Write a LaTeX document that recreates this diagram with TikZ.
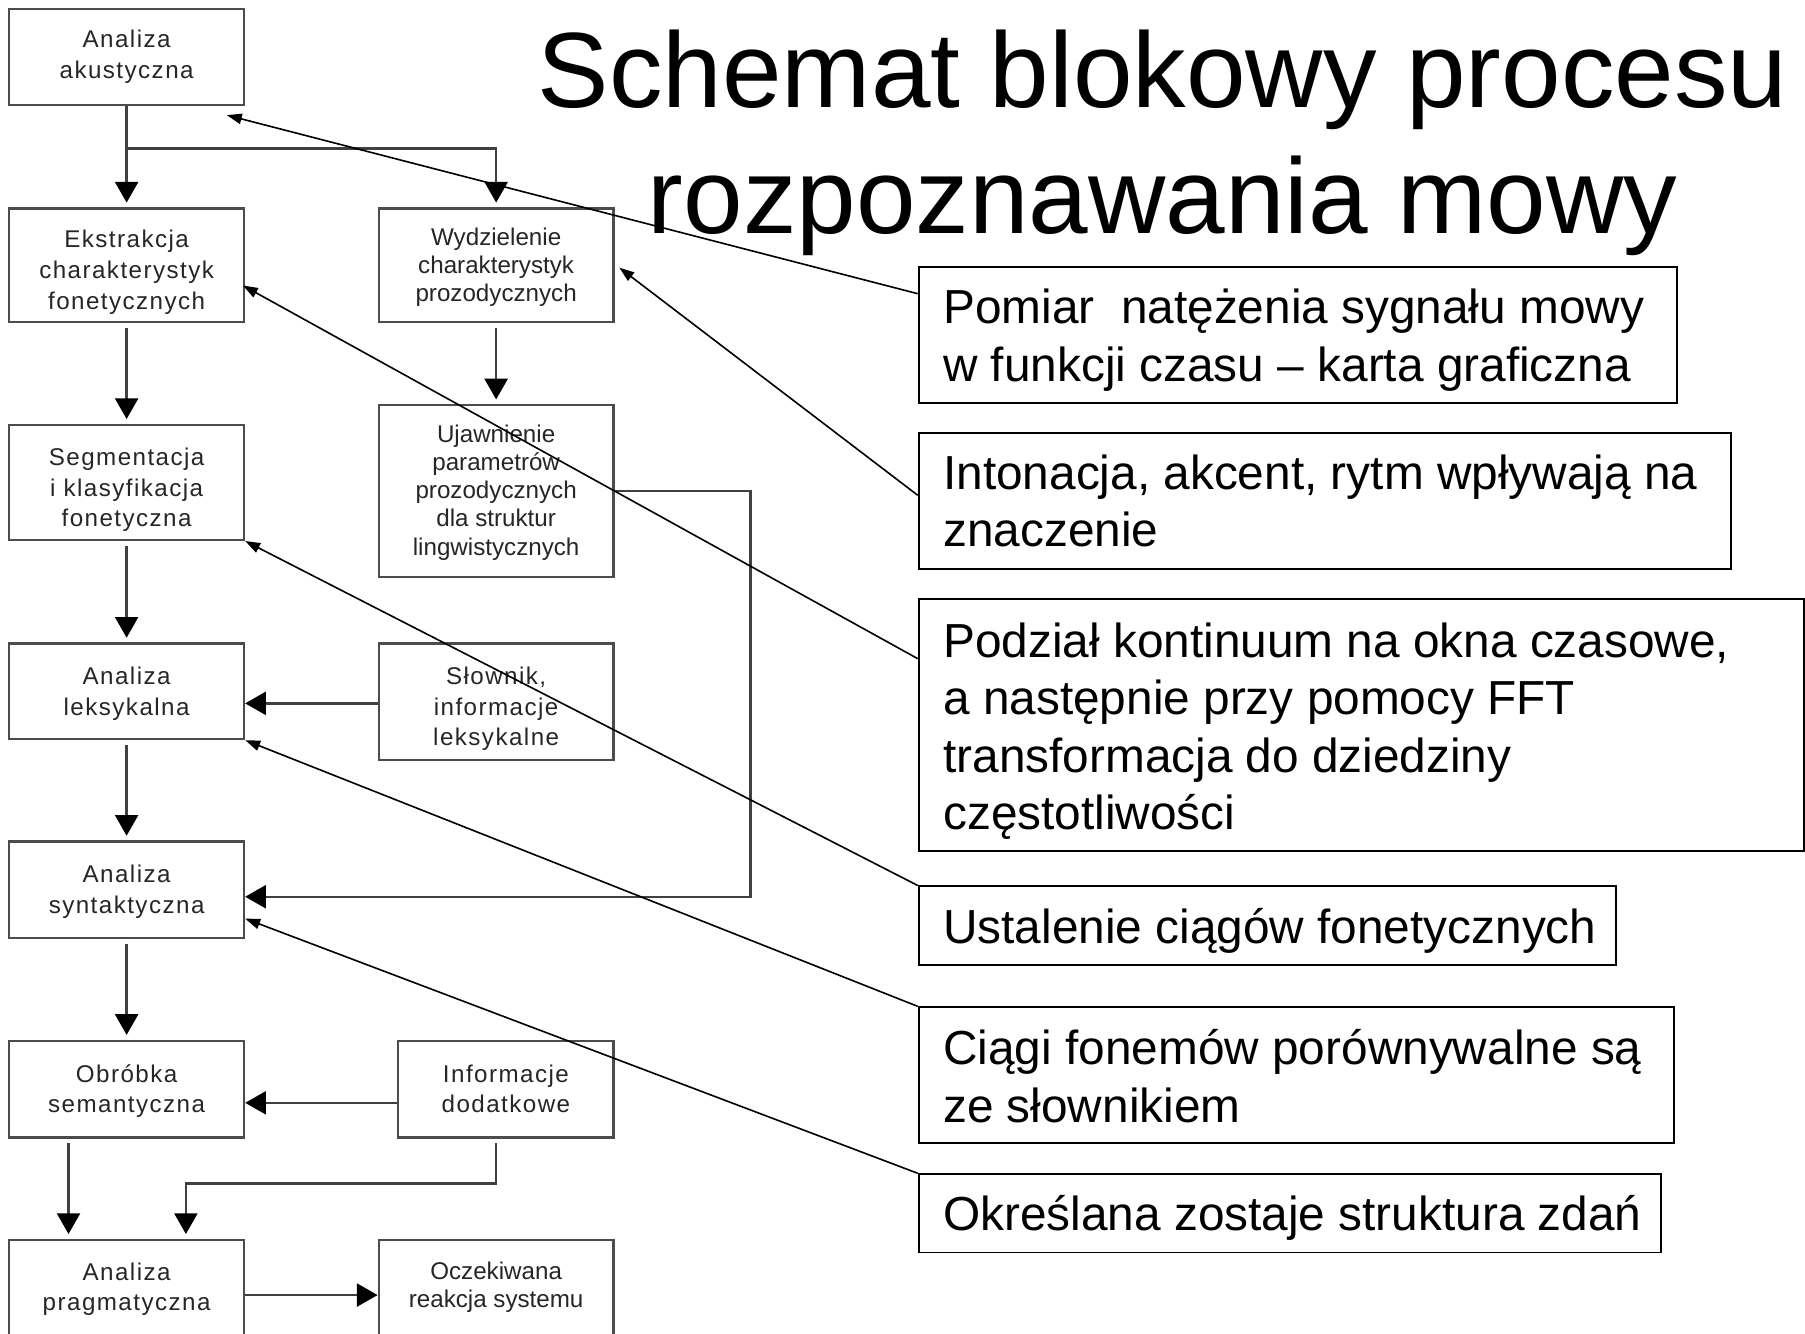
\documentclass[tikz,border=0pt]{standalone}
\usepackage{fontspec}
\setmainfont{Liberation Sans}
\newfontfamily\boxfont[LetterSpace=6]{Liberation Sans}
\newfontfamily\boxfontn{Liberation Sans}
\usetikzlibrary{arrows.meta,calc}
\newcommand\lowtext[2]{\raisebox{-#1}[\height][\depth]{\begin{tabular}{@{}c@{}}#2\end{tabular}}}
\begin{document}
\begin{tikzpicture}[x=0.5pt,y=-0.5pt,
  lbox/.style={draw=black!70, line width=1pt, inner sep=0pt, align=center, text=black!85,
    font=\boxfont\fontsize{10.5}{13.3}\selectfont, minimum width=102pt},
  nbox/.style={lbox, font=\boxfontn\fontsize{10.5}{12.2}\selectfont},
  big/.style={draw=black!75, line width=1pt, -{Triangle[length=9pt,width=10pt,color=black]}},
  gap/.style={shorten <=2pt, shorten >=2pt},
  callout/.style={draw=black, line width=0.7pt, -{Triangle[length=6.5pt,width=4.5pt]}},
  rbox/.style={draw=black, line width=0.8pt, inner sep=0pt},
  rtext/.style={font=\fontsize{20.75}{25}\selectfont, inner sep=0pt, anchor=base west},
  ttl/.style={font=\fontsize{46.5}{55}\selectfont, inner sep=0pt, anchor=base}]
\useasboundingbox (0,0) rectangle (1568,1158);
\fill[white] (0,0) rectangle (1568,1158);

% title
\node[ttl] (title) at (1010,93) {\begin{tabular}[t]{@{}c@{}}Schemat blokowy procesu\\rozpoznawania mowy\end{tabular}};

% left boxes
\node[lbox, minimum height=41.5pt] (aa) at (110,49.5) {Analiza\\akustyczna};
\node[lbox, minimum height=49.5pt] (ek) at (110,230.5) {\lowtext{3pt}{Ekstrakcja\\charakterystyk\\fonetycznych}};
\node[nbox, minimum height=49.5pt] (wy) at (431,230.5) {\lowtext{1pt}{Wydzielenie\\charakterystyk\\prozodycznych}};
\node[lbox, minimum height=50pt] (seg) at (110,419) {\lowtext{3.3pt}{Segmentacja\\i klasyfikacja\\fonetyczna}};
\node[nbox, minimum height=74.5pt] (uj) at (431,426.5) {\lowtext{1pt}{Ujawnienie\\parametrów\\prozodycznych\\dla struktur\\lingwistycznych}};
\node[lbox, minimum height=41.5pt] (lek) at (110,600.5) {\lowtext{1pt}{Analiza\\leksykalna}};
\node[lbox, minimum height=50.5pt] (slo) at (431,609.5) {\lowtext{3.2pt}{Słownik,\\informacje\\leksykalne}};
\node[lbox, minimum height=42pt] (syn) at (110,773) {\lowtext{0.8pt}{Analiza\\syntaktyczna}};
\node[lbox, minimum height=42pt] (obr) at (110,946) {\lowtext{1pt}{Obróbka\\semantyczna}};
\node[lbox, minimum height=42pt, minimum width=93.5pt] (inf) at (439.5,946) {Informacje\\dodatkowe};
\node[lbox, minimum height=41.5pt] (prag) at (110,1118.5) {\lowtext{0.8pt}{Analiza\\pragmatyczna}};
\node[nbox, minimum height=41.5pt] (ocz) at (431,1118.5) {Oczekiwana\\reakcja systemu};

% left connectors
\coordinate (split) at ($(aa.south)+(0,37)$);
\draw[draw=black!75, line width=1pt] (aa.south) -- (split);
\draw[big, shorten >=2pt] (split) -- (ek.north);
\draw[big, shorten >=2pt] (split) -| (wy.north);
\draw[big, gap] (ek) -- (seg);
\draw[big, gap] (wy) -- (uj);
\draw[big, gap] (seg) -- (lek);
\draw[big, gap] (lek) -- (syn);
\draw[big, gap] (syn) -- (obr);
\coordinate (s1) at ($(slo.west)+(0,1.5)$);
\draw[big] (s1) -- (s1 -| lek.east);
\draw[big] (uj.east) -- ++(118,0) |- ($(syn.east)+(0,6)$);
\coordinate (i3) at ($(inf.west)+(0,12)$);
\draw[big] (i3) -- (i3 -| obr.east);
\coordinate (o1) at ($(obr.south west)!0.255!(obr.south east)$);
\draw[big, gap] (o1) -- (o1 |- prag.north);
\coordinate (i1) at ($(inf.south)+(-8.5,0)$);
\coordinate (p2) at ($(prag.north west)!0.75!(prag.north east)$);
\draw[big, gap] (i1) -- ++(0,39) -| (p2);
\coordinate (p3) at ($(prag.north east)+(0,49)$);
\draw[big] (p3) -- (p3 -| ocz.west);

% right boxes
\node[rbox, minimum width=329.5pt, minimum height=59pt] (pom) at (1127.5,291) {};
\node[rbox, minimum width=353pt, minimum height=59pt] (into) at (1151,435) {};
\node[rbox, minimum width=384.5pt, minimum height=109.5pt] (podz) at (1182.5,629.5) {};
\node[rbox, minimum width=303pt, minimum height=34pt] (ust) at (1101,804) {};
\node[rbox, minimum width=328pt, minimum height=59pt] (ciagi) at (1126,934) {};
\node[rbox, minimum width=322.5pt, minimum height=34pt] (okr) at (1120.5,1054) {};

\node[rtext] (pomt) at (819,281) {\begin{tabular}[t]{@{}l@{}}Pomiar\ \ natężenia sygnału mowy\\w funkcji czasu – karta graficzna\end{tabular}};
\node[rtext] (intot) at (819,425) {\begin{tabular}[t]{@{}l@{}}Intonacja, akcent, rytm wpływają na\\znaczenie\end{tabular}};
\node[rtext] (podzt) at (819,571) {\begin{tabular}[t]{@{}l@{}}Podział kontinuum na okna czasowe,\\a następnie przy pomocy FFT\\transformacja do dziedziny\\częstotliwości\end{tabular}};
\node[rtext] (ustt) at (819,820) {Ustalenie ciągów fonetycznych};
\node[rtext] (ciagit) at (819,925) {\begin{tabular}[t]{@{}l@{}}Ciągi fonemów porównywalne są\\ze słownikiem\end{tabular}};
\node[rtext] (okrt) at (819,1069) {Określana zostaje struktura zdań};

% callout connectors
\draw[callout] ($(pom.north west)!0.2!(pom.south west)$) -- ($(aa.south east)+(-16,8)$);
\draw[callout] ($(into.north west)!0.46!(into.south west)$) -- ($(wy.east)+(4,2)$);
\draw[callout] ($(podz.north west)!0.24!(podz.south west)$) -- ($(ek.east)+(-2,17.5)$);
\draw[callout] (ust.north west) -- (seg.south east);
\draw[callout] (ciagi.north west) -- (lek.south east);
\draw[callout] (okr.north west) -- ($(syn.east)+(0,25)$);
\end{tikzpicture}
\end{document}
